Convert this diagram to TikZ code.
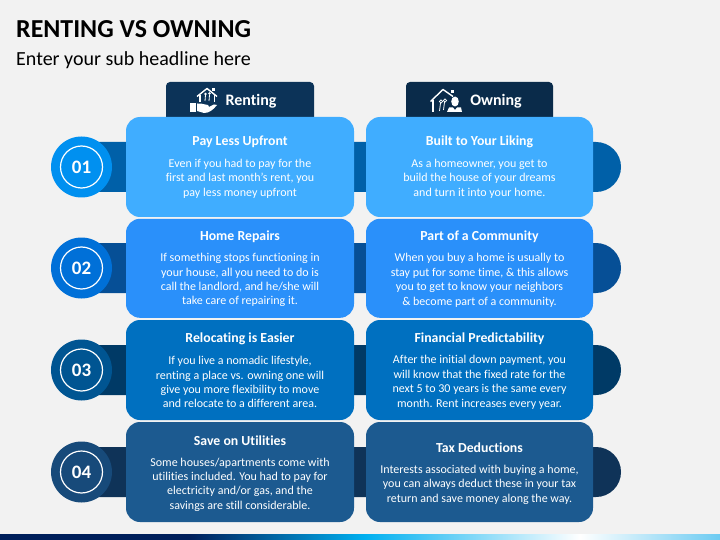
\documentclass[tikz,border=0pt]{standalone}
\usepackage{fontspec}
\setmainfont[Ligatures=NoCommon]{Carlito}
\usepackage{tikz}
\definecolor{pagebg}{HTML}{F2F2F2}
\definecolor{cardA}{HTML}{40ADFF}
\definecolor{cardB}{HTML}{2A90FA}
\definecolor{cardC}{HTML}{0070C0}
\definecolor{cardD}{HTML}{1C5A90}
\definecolor{bandA}{HTML}{0060A8}
\definecolor{bandB}{HTML}{064F96}
\definecolor{bandC}{HTML}{003A66}
\definecolor{bandD}{HTML}{0F3358}
\definecolor{discA}{HTML}{0090F0}
\definecolor{discB}{HTML}{0070D8}
\definecolor{discC}{HTML}{005592}
\definecolor{discD}{HTML}{174A7A}
\definecolor{tabA}{HTML}{0C3358}
\definecolor{tabB}{HTML}{0A2B4A}
\definecolor{stripA}{HTML}{001F5B}
\definecolor{stripB}{HTML}{00B0F0}
\definecolor{stripC}{HTML}{6CCBF2}
\tikzset{
	card/.style={rounded corners=14pt,inner sep=0pt,text=white,align=center,minimum height=100pt},
	leftcard/.style={card,minimum width=228pt},
	rightcard/.style={card,minimum width=227pt},
	cardtext/.style={text=white,align=center,font=\fontsize{12}{14.4}\selectfont},
	cardhead/.style={text=white,align=center,font=\fontsize{13.8}{15}\selectfont\bfseries},
	tab/.style={rounded corners=4pt,minimum height=40pt},
	disc/.style={circle,minimum size=61pt,inner sep=0pt},
	ring/.style={circle,draw=white,line width=1.2pt,minimum size=42pt,inner sep=0pt,text=white,font=\fontsize{19}{19}\selectfont\bfseries},
	tablabel/.style={text=white,font=\fontsize{16}{16}\selectfont\bfseries},
}
\begin{document}
\begin{tikzpicture}[x=1pt,y=1pt]
	\useasboundingbox (0,0) rectangle (720,-540);
	\fill[pagebg] (0,0) rectangle (720,-540);

	\node[anchor=west,inner sep=0pt,font=\fontsize{25.9}{26}\selectfont\bfseries] (title) at(16,-29){RENTING VS OWNING};
	\node[anchor=west,inner sep=0pt,font=\fontsize{20}{20}\selectfont] (subtitle) at(16,-60){Enter your sub headline here};

	% footer strip
	\fill[stripA] (0,-534) rectangle (190,-540);
	\shade[left color=stripA,right color=stripB] (190,-534) rectangle (365,-540);
	\shade[left color=stripB,right color=white] (365,-534) rectangle (580,-540);
	\shade[left color=white,right color=stripC] (580,-534) rectangle (720,-540);

	% tabs
	\node[tab,minimum width=148pt,fill=tabA] (renttab) at(240,-102){};
	\node[tab,minimum width=147pt,fill=tabB] (owntab) at(479.5,-102){};

	% bands
	\foreach \ypos/\bandcol in {-167/bandA,-268/bandB,-370/bandC,-472/bandD}{
		\fill[\bandcol] (81,\ypos+25) -- (596,\ypos+25) arc(90:-90:25) -- (81,\ypos-25) -- cycle;
	}

	% discs
	\node[disc,fill=discA] (disca) at(81.5,-167){};
	\node[ring] (numa) at(disca){01};
	\node[disc,fill=discB] (discb) at(81.5,-268){};
	\node[ring] (numb) at(discb){02};
	\node[disc,fill=discC] (discc) at(81.5,-370){};
	\node[ring] (numc) at(discc){03};
	\node[disc,fill=discD] (discd) at(81.5,-472){};
	\node[ring] (numd) at(discd){04};

	% left cards
	\node[leftcard,fill=cardA] (renta) at(240,-167){};
	\node[cardhead] (rentaH) at(240,-142.2){Pay Less Upfront};
	\node[cardtext] (rentaT) at(240,-178.7){Even if you had to pay for the\\first and last month's rent, you\\pay less money upfront};
	\node[leftcard,minimum height=99pt,fill=cardB] (rentb) at(240,-268.3){};
	\node[cardhead] (rentbH) at(240,-237){Home Repairs};
	\node[cardtext] (rentbT) at(240,-280.2){If something stops functioning in\\your house, all you need to do is\\call the landlord, and he/she will\\take care of repairing it.};
	\node[leftcard,fill=cardC] (rentc) at(240,-370){};
	\node[cardhead] (rentcH) at(240,-339.2){Relocating is Easier};
	\node[cardtext] (rentcT) at(240,-382.2){If you live a nomadic lifestyle,\\renting a place vs. owning one will\\give you more flexibility to move\\and relocate to a different area.};
	\node[leftcard,fill=cardD] (rentd) at(240,-472){};
	\node[cardhead] (rentdH) at(240,-441.2){Save on Utilities};
	\node[cardtext] (rentdT) at(240,-484.5){Some houses/apartments come with\\utilities included. You had to pay for\\electricity and/or gas, and the\\savings are still considerable.};

	% right cards
	\node[rightcard,fill=cardA] (owna) at(479.5,-167){};
	\node[cardhead] (ownaH) at(479.5,-142.2){Built to Your Liking};
	\node[cardtext] (ownaT) at(479.5,-178.7){As a homeowner, you get to\\build the house of your dreams\\and turn it into your home.};
	\node[rightcard,minimum height=99pt,fill=cardB] (ownb) at(479.5,-268.3){};
	\node[cardhead] (ownbH) at(479.5,-237){Part of a Community};
	\node[cardtext] (ownbT) at(479.5,-280.2){When you buy a home is usually to\\stay put for some time, \& this allows\\you to get to know your neighbors\\\& become part of a community.};
	\node[rightcard,fill=cardC] (ownc) at(479.5,-370){};
	\node[cardhead] (owncH) at(479.5,-339.2){Financial Predictability};
	\node[cardtext] (owncT) at(479.5,-382.2){After the initial down payment, you\\will know that the fixed rate for the\\next 5 to 30 years is the same every\\month. Rent increases every year.};
	\node[rightcard,fill=cardD] (ownd) at(479.5,-472){};
	\node[cardhead] (owndH) at(479.5,-448.2){Tax Deductions};
	\node[cardtext] (owndT) at(479.5,-484.5){Interests associated with buying a home,\\you can always deduct these in your tax\\return and save money along the way.};

	% tab labels
	\node[tablabel] (rentlabel) at(251,-101){Renting};
	\node[tablabel] (ownlabel) at(496,-101){Owning};

	% renting icon
	\fill[white] (190,-103) rectangle (195.5,-112);
	\fill[white] (197,-103.5) .. controls (203,-103) and (204,-105) .. (208,-105) -- (209,-107) -- (214,-104.5) -- (217,-105) .. controls (213,-110) and (209,-113) .. (204,-113) -- (197,-111) -- cycle;
	\draw[white,line width=1.4pt,line join=round] (197,-96.5) -- (207,-88.5) -- (217,-96.5);
	\draw[white,line width=1.1pt] (200,-95) -- (200,-102.5) (214.5,-95) -- (214.5,-102.5);
	\fill[white] (212,-88.5) rectangle (215,-91.5);
	\fill[white] (205.5,-94) circle (1.4pt) (209.5,-93.5) circle (1.4pt);
	\draw[white,line width=0.8pt] (205.5,-95) -- (205,-101) (209.5,-95) -- (209,-101);

	% owning icon
	\draw[white,line width=1.4pt,line join=round] (430.5,-101.5) -- (443,-89.5) -- (453,-96.5);
	\draw[white,line width=1.1pt] (433,-100) -- (433,-112);
	\fill[white] (451,-90) rectangle (454,-93);
	\draw[white,line width=0.8pt] (441,-101.5) circle (1.6pt) (445,-100.5) circle (1.6pt);
	\draw[white,line width=0.8pt] (440.5,-103) -- (439.5,-111) (444.5,-102) -- (443.5,-110);
	\fill[white] (455,-101.5) ellipse (3.8pt and 5pt);
	\fill[white] (447,-112) -- (449,-107.5) -- (453,-107.5) -- (455,-110) -- (457,-107.5) -- (461,-107.5) -- (462,-112) -- cycle;
\end{tikzpicture}
\end{document}
